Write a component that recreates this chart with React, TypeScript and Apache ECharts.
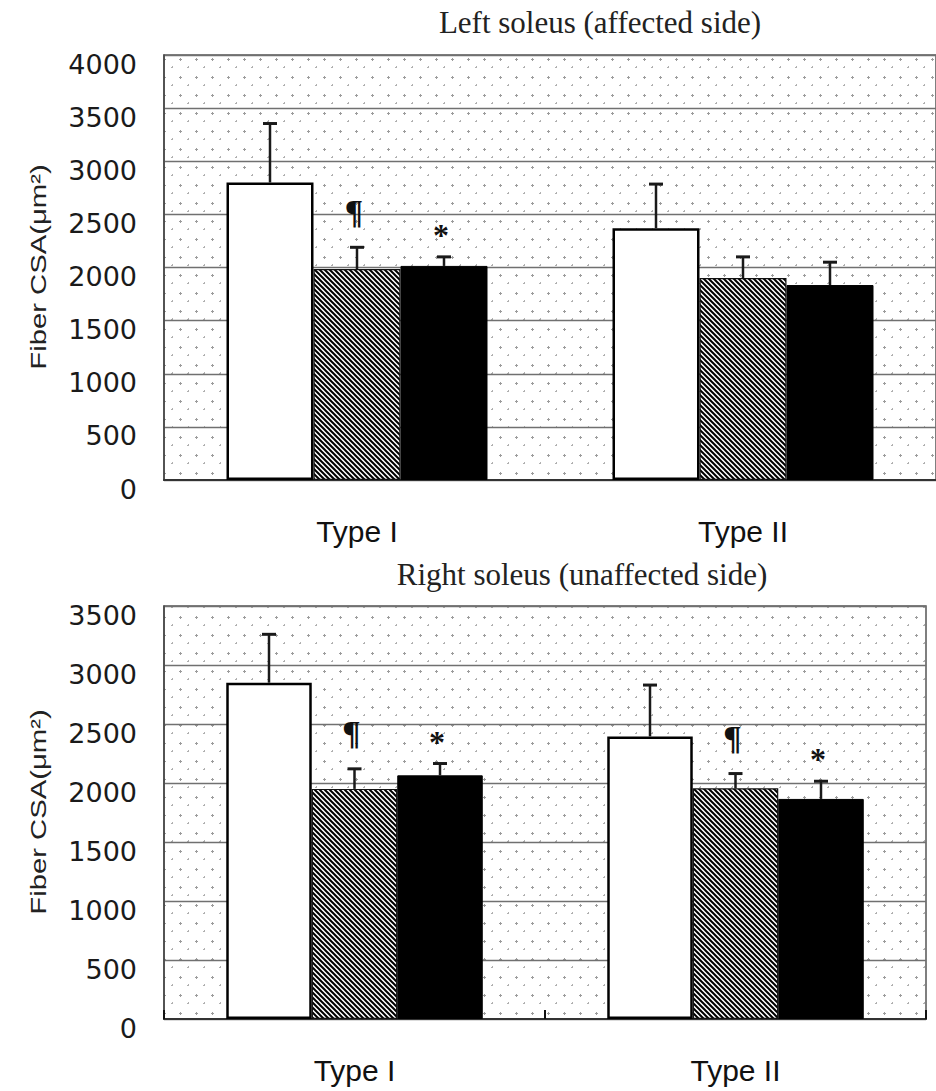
import React, { useEffect, useRef } from 'react';
import * as echarts from 'echarts';

// ---------- data ----------
const categories = ['Type I', 'Type II'];
const seriesNames = ['Group A', 'Group B', 'Group C'];

// Left soleus (affected side)
const leftWhite = [2800, 2370];
const leftWhiteSD = [555, 415];
const leftHatched = [1985, 1900];
const leftHatchedSD = [205, 200];
const leftBlack = [2015, 1835];
const leftBlackSD = [85, 215];
const leftMarksHatched = ['¶', ''];
const leftMarksBlack = ['*', ''];
const leftMax = 4000;

// Right soleus (unaffected side)
const rightWhite = [2850, 2395];
const rightWhiteSD = [410, 435];
const rightHatched = [1950, 1955];
const rightHatchedSD = [170, 125];
const rightBlack = [2065, 1865];
const rightBlackSD = [100, 150];
const rightMarksHatched = ['¶', '¶'];
const rightMarksBlack = ['*', '*'];
const rightMax = 3500;

const yInterval = 500;
const titles = ['Left soleus (affected side)', 'Right soleus (unaffected side)'];
const yName = 'Fiber CSA(μm²)';

// ---------- styles ----------
const svgUrl = (s: string) => 'data:image/svg+xml;utf8,' + encodeURIComponent(s);

const hatchTile = svgUrl(
  "<svg xmlns='http://www.w3.org/2000/svg' width='5' height='5'>" +
    "<rect width='5' height='5' fill='#ffffff'/>" +
    "<path d='M-1,-1 L6,6 M-1,4 L1,6 M4,-1 L6,1' stroke='#000' stroke-width='2'/>" +
    '</svg>'
);
const hatchPattern: any = { image: hatchTile, repeat: 'repeat', imageWidth: 5, imageHeight: 5 };

const speckleTile = svgUrl(
  "<svg xmlns='http://www.w3.org/2000/svg' width='16' height='18'>" +
    "<rect width='16' height='18' fill='#ffffff'/>" +
    "<path d='M3 5h3v1h-3zM4 4h1v3h-1z' fill='#9c9c9c'/>" +
    "<path d='M11 13h2v1h-2zM12 12h1v2h-1z' fill='#b0b0b0'/>" +
    '</svg>'
);
const specklePattern: any = { image: speckleTile, repeat: 'repeat', imageWidth: 16, imageHeight: 18 };

const PANELS = [
  {
    grid: { left: 164, top: 55, width: 788, height: 425 },
    barW: 87,
    max: leftMax,
    means: [leftWhite, leftHatched, leftBlack],
    sds: [leftWhiteSD, leftHatchedSD, leftBlackSD],
    marks: [['', ''], leftMarksHatched, leftMarksBlack],
    title: { x: 600, y: 22 },
    name: { x: 38, y: 267 },
    tick: false,
  },
  {
    grid: { left: 164, top: 606, width: 762, height: 413 },
    barW: 85.5,
    max: rightMax,
    means: [rightWhite, rightHatched, rightBlack],
    sds: [rightWhiteSD, rightHatchedSD, rightBlackSD],
    marks: [['', ''], rightMarksHatched, rightMarksBlack],
    title: { x: 582, y: 574 },
    name: { x: 38, y: 812 },
    tick: true,
  },
];

const barStyles = [
  { color: '#ffffff', borderColor: '#000000', borderWidth: 2.5 },
  { color: hatchPattern, borderColor: '#111111', borderWidth: 1.2 },
  { color: '#000000', borderColor: '#000000', borderWidth: 1 },
];

function buildOption() {
  const grid: any[] = [];
  const xAxis: any[] = [];
  const yAxis: any[] = [];
  const series: any[] = [];
  const graphic: any[] = [];

  PANELS.forEach((p, i) => {
    grid.push({
      ...p.grid,
      show: true,
      backgroundColor: specklePattern,
      borderColor: '#555',
      borderWidth: 1.5,
      containLabel: false,
    });
    xAxis.push({
      type: 'category',
      gridIndex: i,
      data: categories,
      axisLine: { show: true, lineStyle: { color: '#333', width: 2 } },
      axisTick: { show: p.tick, inside: true, length: 9, lineStyle: { color: '#111', width: 2 } },
      axisLabel: { fontSize: 30, fontFamily: 'Liberation Sans', color: '#111', margin: 36 },
      splitLine: { show: false },
    });
    yAxis.push({
      type: 'value',
      gridIndex: i,
      min: 0,
      max: p.max,
      interval: yInterval,
      axisLine: { show: true, lineStyle: { color: '#444', width: 1.5 } },
      axisTick: { show: false },
      axisLabel: {
        fontSize: 27,
        fontFamily: 'DejaVu Sans',
        color: '#1a1a1a',
        margin: 27,
        verticalAlign: 'top',
        lineHeight: 18,
        formatter: (v: number) => String(v),
      },
      splitLine: { show: true, lineStyle: { color: '#707070', width: 1.4 } },
    });

    p.means.forEach((vals, s) => {
      series.push({
        type: 'bar',
        name: seriesNames[s],
        xAxisIndex: i,
        yAxisIndex: i,
        data: vals,
        barWidth: p.barW,
        barGap: '0%',
        itemStyle: barStyles[s],
        z: 2,
      });
    });

    const errData: number[][] = [];
    p.means.forEach((vals, s) => {
      vals.forEach((v, c) => errData.push([c, s, v, p.sds[s][c]]));
    });
    const barW = p.barW;
    const marks = p.marks;
    series.push({
      type: 'custom',
      xAxisIndex: i,
      yAxisIndex: i,
      data: errData,
      encode: { x: 0, y: 2 },
      z: 5,
      renderItem: (params: any, api: any) => {
        const c = api.value(0);
        const s = api.value(1);
        const m = api.value(2);
        const sd = api.value(3);
        const base = api.coord([c, m]);
        const top = api.coord([c, m + sd]);
        const x = base[0] + (s - 1) * barW;
        const children: any[] = [
          {
            type: 'line',
            shape: { x1: x, y1: base[1], x2: x, y2: top[1] },
            style: { stroke: '#1a1a1a', lineWidth: 2.5 },
          },
          {
            type: 'line',
            shape: { x1: x - 7, y1: top[1], x2: x + 7, y2: top[1] },
            style: { stroke: '#1a1a1a', lineWidth: 3 },
          },
        ];
        const mark = marks[s][c];
        if (mark) {
          const isPil = mark === '¶';
          children.push({
            type: 'text',
            x: x - 3,
            y: top[1] + (isPil ? -36 : -22),
            style: {
              text: mark,
              fill: '#111',
              font: isPil ? 'bold 34px "Liberation Serif"' : 'bold 32px "Liberation Serif"',
              align: 'center',
              verticalAlign: 'middle',
            },
          });
        }
        return { type: 'group', children };
      },
    });

    graphic.push({
      type: 'text',
      x: p.title.x,
      y: p.title.y,
      style: {
        text: titles[i],
        fill: '#222',
        font: '31px "Liberation Serif"',
        align: 'center',
        verticalAlign: 'middle',
        textAlign: 'center',
        textVerticalAlign: 'middle',
      },
    });
    graphic.push({
      type: 'text',
      x: p.name.x,
      y: p.name.y,
      rotation: Math.PI / 2,
      scaleX: 1.33,
      style: {
        text: yName,
        fill: '#222',
        font: '22px "Liberation Sans"',
        align: 'center',
        verticalAlign: 'middle',
        textAlign: 'center',
        textVerticalAlign: 'middle',
      },
    });
  });

  return {
    animation: false,
    backgroundColor: '#ffffff',
    grid,
    xAxis,
    yAxis,
    series,
    graphic,
  };
}

export default function App() {
  const ref = useRef<HTMLDivElement>(null);
  useEffect(() => {
    if (!ref.current) return;
    const chart = echarts.init(ref.current, undefined, { renderer: 'svg' });
    chart.setOption(buildOption() as any);
    return () => chart.dispose();
  }, []);
  return (
    <div
      ref={ref}
      style={{ position: 'absolute', left: 0, top: 0, width: 936, height: 1091 }}
    />
  );
}
